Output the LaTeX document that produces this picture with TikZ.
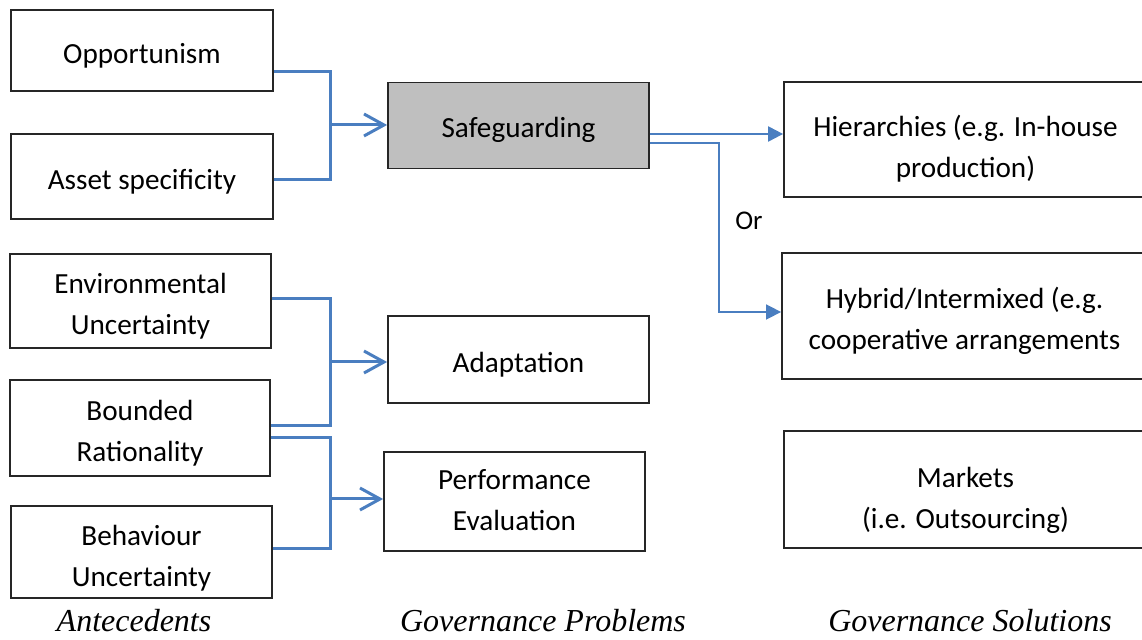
\documentclass[tikz,border=0pt]{standalone}
\usepackage{fontspec}
\setmainfont{Carlito}
\newfontfamily\labelfont{Liberation Serif}
\usetikzlibrary{arrows.meta}
\definecolor{conn}{RGB}{74,126,192}
\newcommand{\dn}[2]{\raisebox{-#1}[\height][\depth]{\begin{tabular}{@{}c@{}}#2\end{tabular}}}
\tikzset{
  box/.style={draw=black!85, line width=0.9pt, align=center, inner sep=0pt,
    font=\fontsize{14.6}{20.5}\selectfont},
  grayfill/.style={fill=black!25},
  conline/.style={draw=conn, line width=1.5pt},
  thinline/.style={draw=conn, line width=0.8pt},
  openarrow/.style={-{Straight Barb[length=10pt,width=11pt,line width=1.5pt]}},
  fillarrow/.style={-{Triangle[length=7.5pt,width=7.5pt]}},
  caption/.style={font=\labelfont\itshape\fontsize{16}{19}\selectfont, inner sep=0pt},
  ortext/.style={font=\fontsize{13.5}{16}\selectfont, inner sep=0pt}
}
\begin{document}
\begin{tikzpicture}[x=0.5pt,y=-0.5pt]
\useasboundingbox (0,0) rectangle (1142,640);
% left column
\node[box, minimum width=131pt, minimum height=40.5pt] (opp) at (142,50.5) {\dn{2.5pt}{Opportunism}};
\node[box, minimum width=131pt, minimum height=42.5pt] (asset) at (142,176.5) {\dn{2.5pt}{Asset specificity}};
\node[box, minimum width=130.5pt, minimum height=47pt] (env) at (140.5,301) {\dn{2.3pt}{Environmental\\Uncertainty}};
\node[box, minimum width=130pt, minimum height=48pt] (bound) at (140,428) {\dn{2.5pt}{Bounded\\Rationality}};
\node[box, minimum width=130.5pt, minimum height=46pt] (behav) at (141.5,552) {\dn{3pt}{Behaviour\\Uncertainty}};
% middle column
\node[box, grayfill, minimum width=130.5pt, minimum height=43pt] (safe) at (518.5,125.5) {\dn{2pt}{Safeguarding}};
\node[box, minimum width=130.5pt, minimum height=43.5pt] (adapt) at (518.5,359.5) {\dn{2.5pt}{Adaptation}};
\node[box, minimum width=130.5pt, minimum height=49.5pt] (perf) at (514.5,501.5) {\dn{0pt}{Performance\\Evaluation}};
% right column
\node[box, minimum width=181.5pt, minimum height=57.5pt] (hier) at (965.5,139.5) {\dn{4.8pt}{Hierarchies (e.g. In-house\\production)}};
\node[box, minimum width=182.5pt, minimum height=63pt] (hyb) at (964.5,316) {\dn{2.5pt}{Hybrid/Intermixed (e.g.\\cooperative arrangements}};
\node[box, minimum width=181.5pt, minimum height=58.5pt] (mkt) at (965.5,489.5) {\dn{5pt}{Markets\\(i.e. Outsourcing)}};
% captions
\node[caption] (capA) at (134,621) {Antecedents};
\node[caption] (capP) at (543,621) {Governance Problems};
\node[caption] (capS) at (970,621) {Governance Solutions};
\node[ortext] (or) at (749,221) {Or};
% junctions
\coordinate (j1) at (330,125);
\coordinate (j2) at (330,362);
\coordinate (j3) at (330,499);
\coordinate (j4) at (719,312);
% connectors: top group
\draw[conline] (opp.east |- 0,72) -| (j1);
\draw[conline] (asset.east |- 0,180) -| (j1);
\draw[conline, openarrow] (j1) -- (safe.west |- j1);
% middle group
\draw[conline] (env.east |- 0,299) -| (j2);
\draw[conline] (bound.east |- 0,426) -| (j2);
\draw[conline, openarrow] (j2) -- (adapt.west |- j2);
% lower group
\draw[conline] (bound.east |- 0,438) -| (j3);
\draw[conline] (behav.east |- 0,549) -| (j3);
\draw[conline, openarrow] (j3) -- (perf.west |- j3);
% safeguarding to solutions
\draw[draw=conn, line width=1.1pt, fillarrow] (safe.east |- 0,134) -- (hier.west |- 0,134);
\draw[thinline, fillarrow] (safe.east |- 0,143) -| (j4) -- (hyb.west |- j4);
\end{tikzpicture}
\end{document}
